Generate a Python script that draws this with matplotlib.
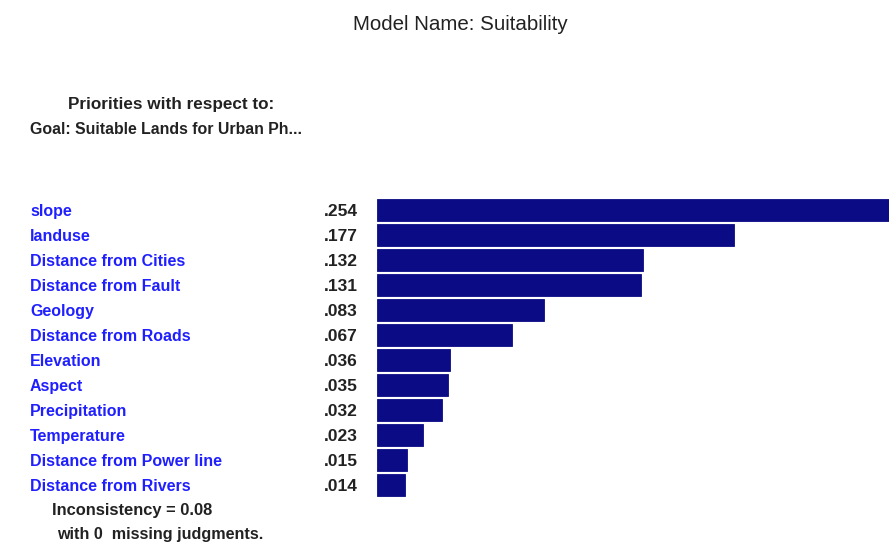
import matplotlib.pyplot as plt
import matplotlib.transforms as mtransforms

criteria = ["slope", "landuse", "Distance from Cities", "Distance from Fault",
            "Geology", "Distance from Roads", "Elevation", "Aspect",
            "Precipitation", "Temperature", "Distance from Power line",
            "Distance from Rivers"]
priorities = [0.254, 0.177, 0.132, 0.131, 0.083, 0.067, 0.036, 0.035,
              0.032, 0.023, 0.015, 0.014]
value_labels = [".254", ".177", ".132", ".131", ".083", ".067", ".036",
                ".035", ".032", ".023", ".015", ".014"]

plt.rcParams["font.family"] = ["Liberation Sans", "DejaVu Sans"]

W, H = 889, 544
fig = plt.figure(figsize=(W / 100, H / 100), dpi=100)
fig.patch.set_facecolor("white")

# bar area: rows 25 px apart, first row centred at y=210
ax = fig.add_axes([377 / W, 1 - 497.5 / H, 1 - 377 / W, 300 / H])
ypos = list(range(len(criteria)))
ax.barh(ypos, priorities, height=0.88, color="#0b0b85", edgecolor="#0b0b85",
        linewidth=0.6)
ax.set_xlim(0, max(priorities))
ax.set_ylim(len(criteria) - 0.5, -0.5)
ax.axis("off")

dark = "#222222"
trans = mtransforms.blended_transform_factory(fig.transFigure, ax.transData)
for y, name, lab in zip(ypos, criteria, value_labels):
    ax.text(30 / W, y, name, transform=trans, ha="left",
            va="center_baseline", fontsize=11.5, fontweight="bold",
            color="#1f1fff")
    ax.text(358 / W, y, lab, transform=trans, ha="right",
            va="center_baseline", fontsize=12.5, fontweight="bold",
            color=dark)

fig.text(460 / W, 1 - 25 / H, "Model Name: Suitability", ha="center",
         va="center", fontsize=14.8, color=dark)
fig.text(171 / W, 1 - 104 / H, "Priorities with respect to:", ha="center",
         va="center", fontsize=12.3, fontweight="bold", color=dark)
fig.text(30 / W, 1 - 130 / H, "Goal: Suitable Lands for Urban Ph...",
         ha="left", va="center", fontsize=11.4, fontweight="bold",
         color=dark)
fig.text(52 / W, 1 - 510 / H, "Inconsistency = 0.08", ha="left",
         va="center", fontsize=11.9, fontweight="bold", color=dark)
fig.text(57 / W, 1 - 535 / H, "with 0  missing judgments.", ha="left",
         va="center", fontsize=11.6, fontweight="bold", color=dark)

fig.savefig("out.png", dpi=100, facecolor="white")
